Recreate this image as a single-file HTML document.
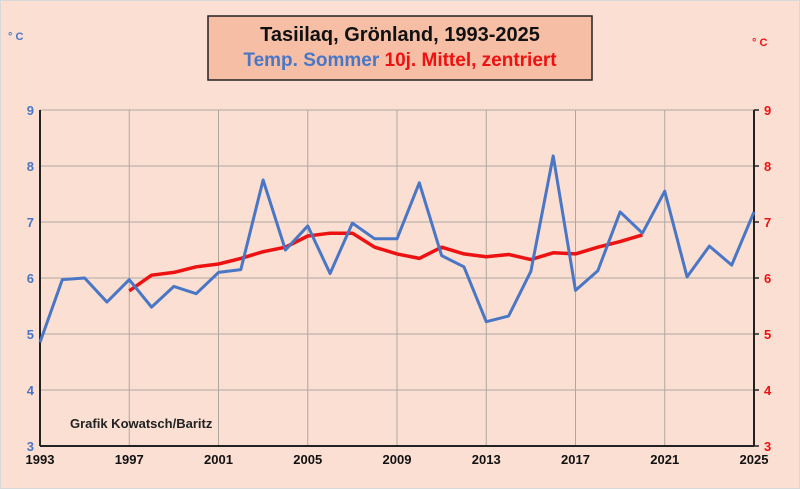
<!DOCTYPE html>
<html><head><meta charset="utf-8"><style>
html,body{margin:0;padding:0;background:#fadfd2;}
svg{display:block;font-family:"Liberation Sans",sans-serif;}
</style></head><body>
<svg id="s" width="800" height="489" xmlns="http://www.w3.org/2000/svg">
<rect x="0" y="0" width="800" height="489" fill="#fadfd2"/>
<rect x="0.5" y="0.5" width="799" height="488" fill="none" stroke="#d8d8d8"/>
<rect x="137" y="16" width="249" height="64" fill="#f6bfa5" stroke="#222" stroke-width="1.5" transform="translate(0,0)"/>
<text x="400" y="41" font-size="20" font-weight="bold" text-anchor="middle" fill="#111">Tasiilaq, Grönland, 1993-2025</text>
<text x="400" y="66" font-size="19" font-weight="bold" text-anchor="middle"><tspan fill="#4a76c6">Temp. Sommer </tspan><tspan fill="#ee1111">10j. Mittel, zentriert</tspan></text>
<text x="8" y="40" font-size="11" font-weight="bold" fill="#4a76c6">° C</text>
<text x="752" y="46" font-size="11" font-weight="bold" fill="#ee1111">° C</text>
<g id="g"></g>
<text x="70" y="428" font-size="13" font-weight="bold" fill="#222">Grafik Kowatsch/Baritz</text>
</svg>
<script>
var g=document.getElementById('g'),ns="http://www.w3.org/2000/svg";
var L=40,R=754,T=110,B=446;
function X(yr){return L+(yr-1993)*(R-L)/32}
function Y(v){return B-(v-3)*(B-T)/6}
function el(n,a,t){var e=document.createElementNS(ns,n);for(var k in a)e.setAttribute(k,a[k]);if(t!=null)e.textContent=t;g.appendChild(e);return e}
// rect bg
document.querySelector('rect[x="137"]').setAttribute('x',208);
document.querySelector('rect[x="208"]').setAttribute('width',384);
for(var v=3;v<=9;v++){el('line',{x1:L,x2:R,y1:Y(v),y2:Y(v),stroke:'#b0a8a0','stroke-width':1});
el('text',{x:34,y:Y(v)+5,'font-size':13,'font-weight':'bold',fill:'#4a76c6','text-anchor':'end'},v);
el('text',{x:764,y:Y(v)+5,'font-size':13,'font-weight':'bold',fill:'#ee1111'},v);
el('line',{x1:R,x2:R+5,y1:Y(v),y2:Y(v),stroke:'#222','stroke-width':1.5});}
for(var yr=1993;yr<=2025;yr+=4){el('line',{x1:X(yr),x2:X(yr),y1:T,y2:B,stroke:'#b0a8a0','stroke-width':1});
el('text',{x:X(yr),y:464,'font-size':13,'font-weight':'bold',fill:'#111','text-anchor':'middle'},yr);}
el('line',{x1:L,x2:L,y1:T,y2:B,stroke:'#222','stroke-width':2});
el('line',{x1:R,x2:R,y1:T,y2:B,stroke:'#222','stroke-width':2});
el('line',{x1:L,x2:R,y1:B,y2:B,stroke:'#222','stroke-width':2});
var blue=[4.85,5.97,6.0,5.57,5.97,5.48,5.85,5.72,6.1,6.15,7.75,6.5,6.93,6.08,6.98,6.7,6.7,7.7,6.4,6.2,5.22,5.32,6.12,8.18,5.78,6.13,7.18,6.8,7.55,6.02,6.57,6.23,7.18];
var red=[5.77,6.05,6.1,6.2,6.25,6.35,6.47,6.55,6.75,6.8,6.8,6.55,6.43,6.35,6.55,6.43,6.38,6.42,6.33,6.45,6.43,6.55,6.65,6.77];
el('polyline',{points:red.map(function(v,i){return X(1997+i)+','+Y(v)}).join(' '),fill:'none',stroke:'#ee1111','stroke-width':3.5,'stroke-linejoin':'round'});
el('polyline',{points:blue.map(function(v,i){return X(1993+i)+','+Y(v)}).join(' '),fill:'none',stroke:'#4a76c6','stroke-width':3,'stroke-linejoin':'round'});
</script>
</body></html>
